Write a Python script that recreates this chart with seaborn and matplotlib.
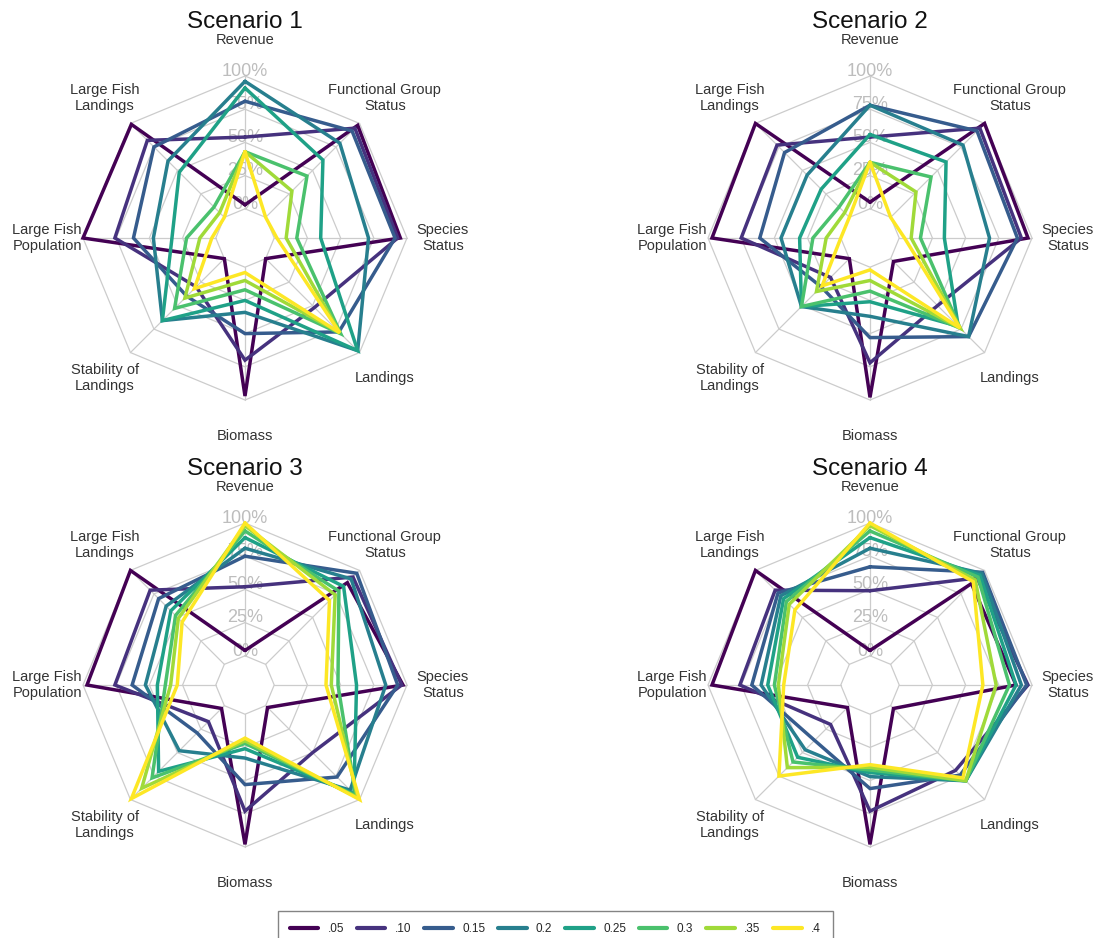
import numpy as np
import pandas as pd
import matplotlib
matplotlib.use("Agg")
import matplotlib.pyplot as plt
import seaborn as sns
from matplotlib.lines import Line2D

sns.set_style("white")
plt.rcParams["font.family"] = ["Liberation Sans", "DejaVu Sans"]

# ---------------- data ----------------
axis_labels = ["Revenue", "Functional Group\nStatus", "Species\nStatus", "Landings",
               "Biomass", "Stability of\nLandings", "Large Fish\nPopulation", "Large Fish\nLandings"]
thresholds = [".05", ".10", "0.15", "0.2", "0.25", "0.3", ".35", ".4"]
grid_levels = [0.0, 0.25, 0.5, 0.75, 1.0]
grid_labels = ["0%", "25%", "50%", "75%", "100%"]
titles = ["Scenario 1", "Scenario 2", "Scenario 3", "Scenario 4"]

# order of values: Revenue, FGS, Species, Landings, Biomass, Stability, LF Pop, LF Landings
s1_05 = [0.03, 0.98, 0.95, 0.00, 0.97, 0.00, 1.00, 0.99]
s1_10 = [0.54, 0.95, 0.93, 0.52, 0.70, 0.30, 0.76, 0.82]
s1_15 = [0.81, 0.92, 0.91, 0.78, 0.50, 0.40, 0.62, 0.75]
s1_20 = [0.96, 0.79, 0.71, 0.98, 0.34, 0.66, 0.47, 0.60]
s1_25 = [0.91, 0.61, 0.35, 0.98, 0.25, 0.66, 0.33, 0.48]
s1_30 = [0.43, 0.44, 0.17, 0.80, 0.17, 0.53, 0.22, 0.11]
s1_35 = [0.43, 0.28, 0.09, 0.79, 0.10, 0.42, 0.12, 0.05]
s1_40 = [0.43, 0.00, 0.02, 0.79, 0.04, 0.32, 0.03, 0.00]

s2_05 = [0.05, 1.00, 0.97, 0.03, 0.98, 0.00, 0.97, 1.00]
s2_10 = [0.54, 0.95, 0.92, 0.50, 0.72, 0.20, 0.75, 0.77]
s2_15 = [0.78, 0.92, 0.89, 0.83, 0.53, 0.30, 0.61, 0.69]
s2_20 = [0.78, 0.77, 0.68, 0.83, 0.37, 0.51, 0.45, 0.45]
s2_25 = [0.56, 0.59, 0.34, 0.72, 0.26, 0.51, 0.31, 0.30]
s2_30 = [0.35, 0.43, 0.16, 0.74, 0.18, 0.51, 0.21, 0.11]
s2_35 = [0.35, 0.27, 0.09, 0.74, 0.10, 0.35, 0.11, 0.05]
s2_40 = [0.35, 0.00, 0.04, 0.74, 0.02, 0.29, 0.00, 0.00]

s3_05 = [0.04, 0.87, 0.97, 0.02, 0.98, 0.03, 0.97, 1.00]
s3_10 = [0.52, 0.93, 0.96, 0.50, 0.73, 0.17, 0.76, 0.79]
s3_15 = [0.75, 0.97, 0.93, 0.76, 0.53, 0.29, 0.63, 0.70]
s3_20 = [0.81, 0.91, 0.84, 0.90, 0.33, 0.48, 0.53, 0.62]
s3_25 = [0.89, 0.83, 0.62, 0.94, 0.26, 0.70, 0.44, 0.57]
s3_30 = [0.94, 0.78, 0.48, 0.96, 0.22, 0.77, 0.38, 0.52]
s3_35 = [0.98, 0.74, 0.43, 0.98, 0.20, 0.88, 0.34, 0.49]
s3_40 = [1.00, 0.68, 0.39, 1.00, 0.18, 0.99, 0.29, 0.45]

s4_05 = [0.04, 0.86, 0.88, 0.03, 0.98, 0.02, 0.97, 1.00]
s4_10 = [0.49, 0.92, 0.97, 0.69, 0.73, 0.20, 0.76, 0.79]
s4_15 = [0.67, 0.98, 0.96, 0.74, 0.56, 0.37, 0.67, 0.76]
s4_20 = [0.81, 0.97, 0.92, 0.80, 0.47, 0.47, 0.60, 0.73]
s4_25 = [0.89, 0.95, 0.88, 0.80, 0.44, 0.55, 0.55, 0.70]
s4_30 = [0.94, 0.93, 0.83, 0.80, 0.42, 0.60, 0.50, 0.67]
s4_35 = [0.98, 0.90, 0.73, 0.80, 0.40, 0.66, 0.47, 0.64]
s4_40 = [1.00, 0.88, 0.63, 0.77, 0.38, 0.75, 0.43, 0.58]

scenarios = [
    [s1_05, s1_10, s1_15, s1_20, s1_25, s1_30, s1_35, s1_40],
    [s2_05, s2_10, s2_15, s2_20, s2_25, s2_30, s2_35, s2_40],
    [s3_05, s3_10, s3_15, s3_20, s3_25, s3_30, s3_35, s3_40],
    [s4_05, s4_10, s4_15, s4_20, s4_25, s4_30, s4_35, s4_40],
]

# ---------------- style ----------------
palette = [matplotlib.colors.to_hex(c) for c in plt.get_cmap("viridis")(np.linspace(0, 1, 8))]
grid_color = "#cccccc"
text_color = "#333333"
ROR = -0.22

W, H = 1094, 938
fig = plt.figure(figsize=(W / 100, H / 100), dpi=100)
fig.patch.set_facecolor("white")

centers = [(245, 238), (870, 238), (245, 685), (870, 685)]
R = 162
n = len(axis_labels)
theta = np.arange(n) * 2 * np.pi / n
theta_closed = np.append(theta, 2 * np.pi)

for k, (cx, cy) in enumerate(centers):
    ax = fig.add_axes([(cx - R) / W, 1 - (cy + R) / H, 2 * R / W, 2 * R / H], projection="polar")
    ax.set_theta_zero_location("N")
    ax.set_theta_direction(-1)
    ax.set_rorigin(ROR)
    ax.set_ylim(0, 1)
    ax.grid(False)
    ax.set_xticks([])
    ax.set_yticks([])

    # octagonal grid
    for lev in grid_levels:
        ax.plot(theta_closed, [lev] * (n + 1), color=grid_color, lw=0.9, zorder=1)
    for t in theta:
        ax.plot([t, t], [0, 1], color=grid_color, lw=0.9, zorder=1)
    for lev, lab in zip(grid_levels, grid_labels):
        ax.text(0, lev + 0.035, lab, color="#bdbdbd", fontsize=13, ha="center", va="center", zorder=2)

    rows = []
    for thr, vals in zip(thresholds, scenarios[k]):
        vv = list(vals) + [vals[0]]
        for t, v in zip(theta_closed, vv):
            rows.append({"theta": t, "value": v, "threshold": thr})
    df = pd.DataFrame(rows)
    sns.lineplot(data=df, x="theta", y="value", hue="threshold", hue_order=thresholds,
                 palette=palette, sort=False, estimator=None, legend=False, ax=ax,
                 linewidth=2.5, zorder=3)
    for ln in ax.lines:
        ln.set_clip_on(False)
        ln.set_solid_joinstyle("miter")
    ax.set_xlabel("")
    ax.set_ylabel("")

    for t, lab in zip(theta, axis_labels):
        ax.text(t, 1.27, lab, ha="center", va="center", fontsize=10.5, color=text_color,
                multialignment="center", linespacing=1.15)

    ax.axis("off")

    fig.text(cx / W, 1 - (cy - 216) / H, titles[k], ha="center", va="center", fontsize=17.5, color="#111111")

handles = [Line2D([0], [0], color=c, lw=3) for c in palette]
leg = fig.legend(handles, thresholds, loc="upper left", bbox_to_anchor=(278 / W, 1 - 911 / H),
                 ncol=8, frameon=True, fancybox=False, edgecolor="#666666", fontsize=8.5,
                 handlelength=2.4, handletextpad=0.8, columnspacing=1.1, borderpad=1.0,
                 borderaxespad=0)
leg.get_frame().set_linewidth(1.0)

fig.savefig("out.png", dpi=100, facecolor="white")
